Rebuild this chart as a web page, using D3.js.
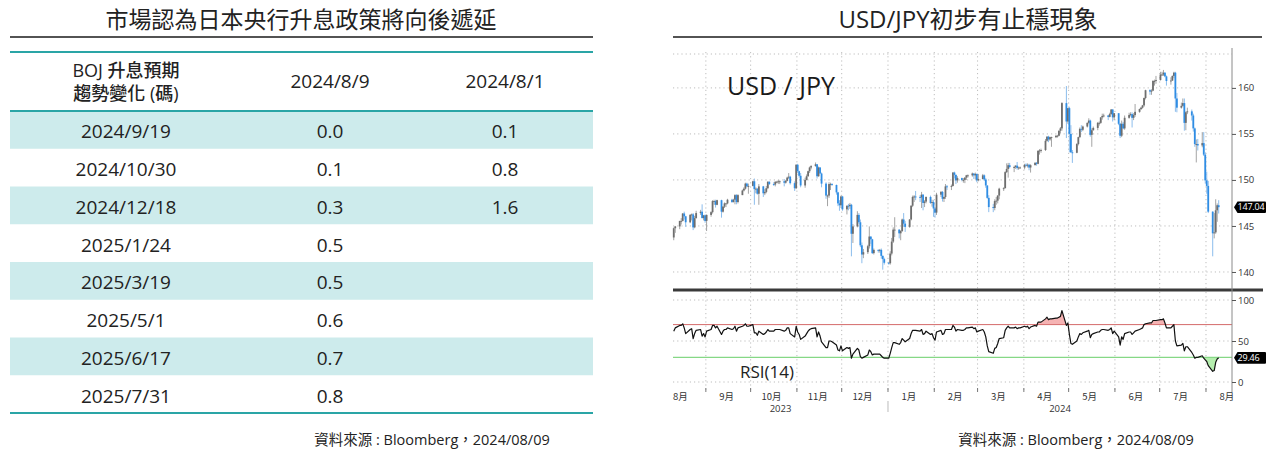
<!DOCTYPE html>
<html>
<head>
<meta charset="utf-8">
<script src="https://cdn.jsdelivr.net/npm/d3@7"></script>
<style>
  body { margin: 0; background: #fff; }
  svg { display: block; font-family: "Open Sans", "Noto Sans CJK TC", sans-serif; }
</style>
</head>
<body>
<svg id="chart" width="1282" height="452"></svg>
<script>
// ---------- table data ----------
const tableTitle = "市場認為日本央行升息政策將向後遞延";
const headerLines = ["BOJ 升息預期", "趨勢變化 (碼)"];
const columnDates = ["2024/8/9", "2024/8/1"];
const meetingDates = ["2024/9/19", "2024/10/30", "2024/12/18", "2025/1/24",
  "2025/3/19", "2025/5/1", "2025/6/17", "2025/7/31"];
const hikesAug9 = [0.0, 0.1, 0.3, 0.5, 0.5, 0.6, 0.7, 0.8];
const hikesAug1 = [0.1, 0.8, 1.6];
const sourceNote = "資料來源 : Bloomberg，2024/08/09";

// ---------- chart data ----------
const chartTitle = "USD/JPY初步有止穩現象";
const priceTicks = [140, 145, 150, 155, 160];
const rsiTicks = [0, 50, 100];
const rsiBands = [30, 70];
const monthLabels = ["8月", "9月", "10月", "11月", "12月", "1月", "2月", "3月",
  "4月", "5月", "6月", "7月", "8月"];
const yearLabels = ["2023", "2024"];
const firstDay = "2023-08-10";
const lastDay = "2024-08-09";

// daily [open, high, low, close], one row per weekday
const ohlc = [
  // 2023-08
  [143.75,144.85,143.45,144.75],[144.75,145.00,144.25,144.95],[144.95,145.55,144.65,145.55],
  [145.55,145.85,145.15,145.55],[145.55,146.40,145.50,146.35],[146.35,146.55,145.70,146.05],
  [146.05,146.10,144.90,145.40],[145.40,146.30,145.30,146.20],[146.20,146.35,145.60,146.25],
  [146.25,146.40,144.55,144.85],[144.85,146.10,144.75,145.85],[145.85,146.65,145.80,146.40],
  [146.40,146.75,146.20,146.55],[146.55,147.35,145.85,145.85],[145.85,146.20,145.60,146.15],
  [146.15,146.25,145.35,145.55],
  // 2023-09
  [145.55,146.25,144.45,146.20],[146.20,146.60,146.00,146.50],[146.50,147.80,146.35,147.70],
  [147.70,147.85,147.30,147.70],[147.70,147.85,147.00,147.30],[147.30,147.85,147.25,147.80],
  [147.80,147.85,145.90,146.55],[146.55,147.15,146.45,147.10],[147.10,147.55,146.95,147.45],
  [147.45,147.50,147.05,147.45],[147.45,147.95,147.35,147.85],[147.85,147.95,147.50,147.60],
  [147.60,147.95,147.55,147.85],[147.85,148.45,147.35,148.35],[148.35,148.45,147.35,147.60],
  [147.60,148.45,147.45,148.35],[148.35,148.95,148.35,148.85],[148.85,149.20,148.75,149.05],
  [149.05,149.70,148.95,149.60],[149.60,149.70,149.20,149.30],[149.30,149.60,148.50,149.35],
  // 2023-10
  [149.35,149.90,149.30,149.85],[149.85,150.15,147.30,149.00],[149.00,149.20,148.55,149.05],
  [149.05,149.10,148.40,148.50],[148.50,149.55,147.30,149.30],[149.30,149.35,148.15,148.55],
  [148.55,149.00,148.35,148.70],[148.70,149.35,148.55,149.10],[149.10,149.85,149.00,149.80],
  [149.80,149.85,149.45,149.55],[149.55,149.75,149.35,149.50],[149.50,149.85,149.30,149.80],
  [149.80,149.90,149.65,149.80],[149.80,150.00,149.55,149.85],[149.85,149.95,149.55,149.85],
  [149.85,150.10,149.30,149.70],[149.70,150.00,149.60,149.90],[149.90,150.35,149.85,150.25],
  [150.25,150.75,150.10,150.35],[150.35,150.45,149.50,149.65],[149.65,149.85,148.80,149.10],
  [149.10,151.70,149.00,151.65],
  // 2023-11
  [151.65,151.75,150.75,150.95],[150.95,151.00,150.25,150.45],[150.45,150.75,149.20,149.40],
  [149.40,150.25,149.15,150.00],[150.00,150.60,149.95,150.40],[150.40,151.00,150.35,150.95],
  [150.95,151.45,150.75,151.35],[151.35,151.60,151.15,151.50],[151.50,151.90,151.45,151.70],
  [151.70,151.70,150.15,150.40],[150.40,151.45,150.35,151.35],[151.35,151.40,150.65,150.70],
  [150.70,150.80,149.20,149.60],[149.60,149.75,147.95,148.30],[148.30,148.40,147.15,148.30],
  [148.30,149.75,148.05,149.55],[149.55,149.70,148.90,149.55],[149.55,149.65,149.35,149.45],
  [149.45,149.50,148.40,148.65],[148.65,148.70,147.15,147.45],[147.45,147.80,146.65,147.25],
  [147.25,148.30,146.95,148.20],
  // 2023-12
  [148.20,148.25,146.65,146.80],[146.80,147.20,146.25,147.20],[147.20,147.40,146.70,147.15],
  [147.15,147.50,146.85,147.30],[147.30,147.40,141.70,144.15],[144.15,145.20,143.15,144.95],
  [144.95,146.60,144.85,146.20],[146.20,146.40,145.20,145.40],[145.40,145.70,142.70,142.90],
  [142.90,143.20,140.95,141.90],[141.90,142.50,141.50,142.15],[142.15,142.95,141.95,142.80],
  [142.80,144.95,142.55,143.85],[143.85,143.85,143.05,143.55],[143.55,143.60,141.95,142.05],
  [142.05,142.55,141.90,142.40],[142.40,142.45,142.10,142.30],[142.30,142.50,142.10,142.40],
  [142.40,142.55,141.45,141.75],[141.75,141.80,140.25,141.40],[141.40,141.55,140.80,141.00],
  // 2024-01
  [141.00,141.10,140.80,140.95],[140.95,142.25,140.80,142.00],[142.00,143.70,141.80,143.30],
  [143.30,144.85,143.15,144.60],[144.60,145.95,143.80,144.60],[144.60,144.65,143.65,144.20],
  [144.20,144.55,143.45,144.45],[144.45,145.80,144.35,145.70],[145.70,146.40,144.90,145.25],
  [145.25,145.55,144.35,144.90],[144.90,145.75,144.80,145.70],[145.70,147.25,145.60,147.20],
  [147.20,148.30,147.05,148.15],[148.15,148.35,147.60,148.20],[148.20,148.80,147.80,148.15],
  [148.15,148.35,147.60,148.10],[148.10,148.70,146.95,148.40],[148.40,148.45,146.70,147.50],
  [147.50,147.80,147.05,147.65],[147.65,148.20,147.45,148.15],[148.15,148.30,147.40,147.50],
  [147.50,147.85,147.10,147.60],[147.60,147.80,146.00,146.90],
  // 2024-02
  [146.90,147.05,145.90,146.45],[146.45,148.60,146.20,148.40],[148.40,148.80,148.15,148.70],
  [148.70,148.80,147.65,147.95],[147.95,148.20,147.60,148.15],[148.15,149.55,147.95,149.30],
  [149.30,149.45,148.90,149.25],[149.25,149.50,148.90,149.35],[149.35,150.85,149.30,150.80],
  [150.80,150.90,150.15,150.55],[150.55,150.60,149.55,149.95],[149.95,150.40,149.70,150.20],
  [150.20,150.25,149.85,150.00],[150.00,150.20,149.70,150.00],[150.00,150.30,149.65,150.25],
  [150.25,150.55,150.00,150.50],[150.50,150.60,150.25,150.50],[150.50,150.80,150.35,150.70],
  [150.70,150.70,150.10,150.50],[150.50,150.80,150.05,150.65],[150.65,150.70,149.75,149.95],
  // 2024-03
  [149.95,150.65,149.85,150.10],[150.10,150.65,150.05,150.50],[150.50,150.60,149.90,150.05],
  [150.05,150.20,149.15,149.40],[149.40,149.40,147.95,148.05],[148.05,148.35,146.50,147.05],
  [147.05,147.40,146.50,146.95],[146.95,147.90,146.70,147.70],[147.70,148.15,147.30,147.75],
  [147.75,148.35,147.45,148.30],[148.30,149.15,147.90,149.05],[149.05,149.20,148.80,149.10],
  [149.10,150.95,149.10,150.85],[150.85,151.80,150.75,151.20],[151.20,151.85,150.25,151.60],
  [151.60,151.85,151.25,151.40],[151.40,151.55,150.85,151.40],[151.40,151.60,151.20,151.55],
  [151.55,151.95,151.10,151.30],[151.30,151.45,151.10,151.35],[151.35,151.45,151.25,151.35],
  // 2024-04
  [151.35,151.75,151.15,151.65],[151.65,151.80,151.45,151.55],[151.55,151.80,151.35,151.65],
  [151.65,151.75,151.05,151.35],[151.35,151.70,150.80,151.60],[151.60,151.95,151.60,151.85],
  [151.85,151.95,151.55,151.75],[151.75,153.25,151.70,153.15],[153.15,153.35,152.75,153.20],
  [153.20,153.40,152.95,153.25],[153.25,154.45,153.15,154.25],[154.25,154.75,154.15,154.70],
  [154.70,154.80,154.10,154.40],[154.40,154.70,154.25,154.65],[154.65,154.70,153.60,154.65],
  [154.65,154.85,154.55,154.80],[154.80,154.90,154.60,154.80],[154.80,155.35,154.75,155.35],
  [155.35,155.75,155.05,155.60],[155.60,158.45,155.35,158.35],[158.35,160.20,154.55,156.35],
  [156.35,157.80,156.10,157.80],
  // 2024-05
  [157.80,157.95,153.00,155.00],[155.00,155.95,152.95,153.00],[153.00,153.25,151.85,152.95],
  [152.95,154.00,152.90,153.90],[153.90,154.70,153.75,154.65],[154.65,155.70,154.55,155.55],
  [155.55,155.95,155.20,155.45],[155.45,155.90,155.30,155.80],[155.80,156.25,155.70,156.20],
  [156.20,156.70,156.05,156.45],[156.45,156.55,154.70,154.90],[154.90,155.60,153.60,155.40],
  [155.40,155.80,155.35,155.65],[155.65,156.30,155.40,156.20],[156.20,156.35,155.90,156.20],
  [156.20,156.80,156.10,156.80],[156.80,157.20,156.55,156.95],[156.95,157.20,156.80,157.00],
  [157.00,157.05,156.50,156.85],[156.85,157.30,156.80,157.15],[157.15,157.70,157.10,157.65],
  [157.65,157.70,156.35,156.80],[156.80,157.25,156.50,157.25],
  // 2024-06
  [157.25,157.25,155.95,156.10],[156.10,156.20,154.55,154.80],[154.80,156.45,154.65,156.10],
  [156.10,156.30,155.50,155.60],[155.60,157.00,155.45,156.75],[156.75,157.30,156.65,157.05],
  [157.05,157.35,156.90,157.15],[157.15,157.35,155.70,156.75],[156.75,157.25,156.50,157.05],
  [157.05,158.25,156.85,157.40],[157.40,157.75,157.30,157.70],[157.70,157.95,157.60,157.85],
  [157.85,158.15,157.75,158.10],[158.10,158.95,157.95,158.90],[158.90,159.80,158.75,159.75],
  [159.75,159.85,159.25,159.60],[159.60,159.85,159.25,159.70],[159.70,160.85,159.65,160.75],
  [160.75,160.90,160.25,160.75],[160.75,161.30,160.45,160.85],
  // 2024-07
  [160.85,161.75,160.80,161.45],[161.45,161.75,161.30,161.45],[161.45,161.95,161.30,161.65],
  [161.65,161.70,161.15,161.25],[161.25,161.35,160.25,160.75],[160.75,161.15,160.35,160.80],
  [160.80,161.35,160.75,161.30],[161.30,161.75,161.05,161.65],[161.65,161.75,157.40,158.85],
  [158.85,159.45,157.35,157.85],[157.85,158.40,157.75,158.05],[158.05,158.85,157.95,158.35],
  [158.35,158.85,155.35,156.20],[156.20,157.45,155.40,157.35],[157.35,157.85,157.15,157.45],
  [157.45,157.65,156.45,157.00],[157.00,157.20,155.25,155.60],[155.60,155.70,153.60,153.90],
  [153.90,154.40,151.90,153.90],[153.90,154.45,153.20,153.75],[153.75,155.20,153.55,154.00],
  [154.00,155.20,152.60,152.75],[152.75,153.00,149.60,149.95],
  // 2024-08
  [149.95,150.90,148.50,149.35],[149.35,149.90,146.40,146.55],[146.55,146.60,141.70,144.20],
  [144.20,146.40,143.65,144.30],[144.30,147.90,144.15,146.70],[146.70,147.45,145.45,147.25],
  [147.25,147.80,146.35,147.04]
];

// RSI(14), one value per weekday
const rsi14 = [
  62,66,69,69,71,66,59,64,65,53,59,63,64,56,59,55,
  62,64,69,69,66,68,58,62,64,64,66,64,65,68,62,66,68,69,71,68,68,
  70,60,60,57,62,58,59,61,64,62,62,64,64,64,64,62,63,66,66,59,55,68,
  61,58,52,56,59,62,64,65,66,55,61,56,49,42,42,50,50,49,45,39,38,44,
  38,42,41,42,29,34,41,39,31,29,30,33,39,37,33,34,34,34,32,30,29,
  29,35,42,48,48,46,48,53,51,49,53,59,63,63,63,62,64,58,59,62,58,59,54,
  51,61,63,58,59,64,64,64,69,67,62,64,63,63,64,66,66,67,65,66,61,
  62,64,61,55,44,37,35,41,42,47,53,54,63,66,68,66,66,67,65,66,66,
  68,67,68,65,67,69,68,73,73,73,77,79,76,77,77,78,78,79,80,87,69,72,
  58,47,46,50,55,59,58,60,62,63,54,58,59,61,61,63,64,64,63,64,66,59,62,
  55,45,55,52,59,61,61,58,60,62,64,65,66,70,71,72,72,75,75,75,
  76,76,77,72,66,66,68,70,50,44,45,47,38,43,43,36,33,29,30,30,32,29,27,
  25,20,13,14,24,28,29.46
];

const svg = d3.select("#chart");
svg.append("rect").attr("width", 1282).attr("height", 452).attr("fill", "#fff");

// ================= left panel: table =================
const teal = "#2aa5a6";
const tbl = svg.append("g");

tbl.append("text")
  .attr("x", 301).attr("y", 28)
  .attr("text-anchor", "middle")
  .style("font-family", "'Noto Sans CJK TC', sans-serif")
  .style("font-size", "23px")
  .attr("fill", "#222")
  .text(tableTitle);

tbl.append("line")
  .attr("x1", 10).attr("x2", 593).attr("y1", 37).attr("y2", 37)
  .attr("stroke", "#1a1a1a").attr("stroke-width", 1.5);

const rowY = d3.scaleBand().domain(meetingDates).range([111, 413]);
const colX = d3.scaleOrdinal().domain(["label", "aug9", "aug1"]).range([126, 330, 505]);
const fmt1 = d3.format(".1f");

tbl.selectAll("rect.stripe")
  .data(meetingDates.filter((d, i) => i % 2 === 0))
  .enter().append("rect")
  .attr("class", "stripe")
  .attr("x", 10).attr("width", 583)
  .attr("y", d => rowY(d)).attr("height", rowY.bandwidth())
  .attr("fill", "#cdebec");

[52, 111, 413].forEach(yy => {
  tbl.append("line")
    .attr("x1", 10).attr("x2", 593).attr("y1", yy).attr("y2", yy)
    .attr("stroke", teal).attr("stroke-width", 2);
});

// header
tbl.selectAll("text.hdr")
  .data(headerLines)
  .enter().append("text")
  .attr("class", "hdr")
  .attr("x", colX("label"))
  .attr("y", (d, i) => 77 + i * 23)
  .attr("text-anchor", "middle")
  .style("font-size", "18px").style("font-weight", 500)
  .attr("fill", "#222")
  .text(d => d);

tbl.selectAll("text.colhdr")
  .data(columnDates)
  .enter().append("text")
  .attr("class", "colhdr")
  .attr("x", (d, i) => colX(i === 0 ? "aug9" : "aug1"))
  .attr("y", 88)
  .attr("text-anchor", "middle")
  .style("font-size", "19px").style("font-weight", 500)
  .attr("fill", "#222")
  .text(d => d);

// body cells
const cellY = d => rowY(d) + rowY.bandwidth() / 2 + 8.5;
const bodyText = sel => sel
  .attr("text-anchor", "middle")
  .style("font-size", "19px")
  .attr("fill", "#222");

tbl.selectAll("text.date")
  .data(meetingDates).enter().append("text")
  .attr("class", "date")
  .attr("x", colX("label")).attr("y", cellY)
  .call(bodyText).text(d => d);

tbl.selectAll("text.v9")
  .data(hikesAug9).enter().append("text")
  .attr("class", "v9")
  .attr("x", colX("aug9")).attr("y", (d, i) => cellY(meetingDates[i]))
  .call(bodyText).text(d => fmt1(d));

tbl.selectAll("text.v1")
  .data(hikesAug1).enter().append("text")
  .attr("class", "v1")
  .attr("x", colX("aug1")).attr("y", (d, i) => cellY(meetingDates[i]))
  .call(bodyText).text(d => fmt1(d));

tbl.append("text")
  .attr("x", 432).attr("y", 445)
  .attr("text-anchor", "middle")
  .style("font-size", "14.5px").attr("fill", "#222")
  .text(sourceNote);

// ================= right panel: USD/JPY chart =================
const cg = svg.append("g");

cg.append("text")
  .attr("x", 968).attr("y", 28)
  .attr("text-anchor", "middle")
  .style("font-size", "24px")
  .attr("fill", "#222")
  .text(chartTitle);

cg.append("line")
  .attr("x1", 673).attr("x2", 1262).attr("y1", 37).attr("y2", 37)
  .attr("stroke", "#1a1a1a").attr("stroke-width", 1.5);

const parseDay = d3.timeParse("%Y-%m-%d");
const days = d3.timeDay.range(parseDay(firstDay), d3.timeDay.offset(parseDay(lastDay), 1))
  .filter(d => d.getDay() !== 0 && d.getDay() !== 6);
const n = Math.min(days.length, ohlc.length, rsi14.length);

const x = d3.scaleTime()
  .domain([parseDay(firstDay), new Date(2024, 7, 18, 10)])
  .range([673, 1232]);
const xc = d => x(d3.timeHour.offset(d, 12));

const y = d3.scaleLinear().domain([138.15, 163.9]).range([289, 52]);
const yR = d3.scaleLinear().domain([0, 100]).range([382, 300]);

const gridStyle = sel => sel
  .attr("stroke", "#bdbdbd").attr("stroke-width", 1)
  .attr("stroke-dasharray", "1.2,3");

// month gridlines
const monthStarts = d3.timeMonth.range(x.domain()[0], x.domain()[1]);
[[52, 289], [292, 390]].forEach(([a, b]) => {
  cg.append("g").selectAll("line")
    .data(monthStarts).enter().append("line")
    .attr("x1", d => x(d)).attr("x2", d => x(d))
    .attr("y1", a).attr("y2", b)
    .call(gridStyle);
});

// horizontal gridlines
cg.append("g").selectAll("line")
  .data(priceTicks).enter().append("line")
  .attr("x1", 673).attr("x2", 1232)
  .attr("y1", d => y(d)).attr("y2", d => y(d))
  .call(gridStyle);
cg.append("line").attr("x1", 673).attr("x2", 1232).attr("y1", 54).attr("y2", 54).call(gridStyle);
cg.append("g").selectAll("line")
  .data(rsiTicks).enter().append("line")
  .attr("x1", 673).attr("x2", 1232)
  .attr("y1", d => yR(d)).attr("y2", d => yR(d))
  .call(gridStyle);

// candles
const upBody = "#6e6e6e", downBody = "#2f8de4", wick = "#9a9a9a";
const candleData = d3.range(n).map(i => ({
  date: days[i], o: ohlc[i][0], h: ohlc[i][1], l: ohlc[i][2], c: ohlc[i][3]
}));
const candles = cg.append("g").selectAll("g")
  .data(candleData).enter().append("g");
candles.append("line")
  .attr("x1", d => xc(d.date)).attr("x2", d => xc(d.date))
  .attr("y1", d => y(d.h)).attr("y2", d => y(d.l))
  .attr("stroke", d => d.c >= d.o ? wick : "#7fb6ea")
  .attr("stroke-width", 0.9);
candles.append("rect")
  .attr("x", d => xc(d.date) - 0.9)
  .attr("width", 1.8)
  .attr("y", d => y(Math.max(d.o, d.c)))
  .attr("height", d => Math.max(0.9, Math.abs(y(d.o) - y(d.c))))
  .attr("fill", d => d.c >= d.o ? upBody : downBody);

// RSI bands and fills
const rsiData = d3.range(n).map(i => ({ date: days[i], v: rsi14[i] }));
const [loBand, hiBand] = rsiBands;
cg.append("path")
  .datum(rsiData)
  .attr("fill", "#f5b3b3")
  .attr("d", d3.area()
    .x(d => xc(d.date))
    .y0(yR(hiBand))
    .y1(d => yR(Math.max(d.v, hiBand))));
cg.append("path")
  .datum(rsiData)
  .attr("fill", "#b5eeae")
  .attr("d", d3.area()
    .x(d => xc(d.date))
    .y0(yR(loBand))
    .y1(d => yR(Math.min(d.v, loBand))));

cg.append("line")
  .attr("x1", 673).attr("x2", 1232)
  .attr("y1", yR(hiBand)).attr("y2", yR(hiBand))
  .attr("stroke", "#d46a6a").attr("stroke-width", 1);
cg.append("line")
  .attr("x1", 673).attr("x2", 1232)
  .attr("y1", yR(loBand)).attr("y2", yR(loBand))
  .attr("stroke", "#86d886").attr("stroke-width", 1.2);

cg.append("path")
  .datum(rsiData)
  .attr("fill", "none")
  .attr("stroke", "#111").attr("stroke-width", 1.2)
  .attr("stroke-linejoin", "round")
  .attr("d", d3.line().x(d => xc(d.date)).y(d => yR(d.v)));

// panel separator
cg.append("line")
  .attr("x1", 673).attr("x2", 1263).attr("y1", 290).attr("y2", 290)
  .attr("stroke", "#3a3a3a").attr("stroke-width", 3);

// right axis
cg.append("line")
  .attr("x1", 1232).attr("x2", 1232).attr("y1", 48).attr("y2", 392)
  .attr("stroke", "#8a8a8a").attr("stroke-width", 1);

const styleAxis = g => {
  g.select(".domain").remove();
  g.selectAll(".tick line").attr("stroke", "#555");
  g.selectAll(".tick text")
    .attr("fill", "#333")
    .style("font-size", "9.5px")
    .style("font-family", "'Open Sans', sans-serif");
};
cg.append("g")
  .attr("transform", "translate(1232,0)")
  .call(d3.axisRight(y).tickValues(priceTicks).tickSize(4).tickPadding(2).tickFormat(d3.format("d")))
  .call(styleAxis);
cg.append("g")
  .attr("transform", "translate(1232,0)")
  .call(d3.axisRight(yR).tickValues(rsiTicks).tickSize(4).tickPadding(2).tickFormat(d3.format("d")))
  .call(styleAxis);

// last value tags
const lastClose = ohlc[n - 1][3];
const lastRsi = rsi14[n - 1];
const tag = (yy, label) => {
  const x0 = 1234, x1 = 1266, h = 5.8;
  cg.append("path")
    .attr("d", `M${x0},${yy} L${x0 + 3.5},${yy - h} L${x1 - 1},${yy - h} Q${x1},${yy - h} ${x1},${yy - h + 1} L${x1},${yy + h - 1} Q${x1},${yy + h} ${x1 - 1},${yy + h} L${x0 + 3.5},${yy + h} Z`)
    .attr("fill", "#000");
  cg.append("text")
    .attr("x", x0 + 3.5).attr("y", yy + 3.3)
    .style("font-size", "9px")
    .style("letter-spacing", "-0.2px")
    .style("font-family", "'Open Sans', sans-serif")
    .attr("fill", "#fff")
    .text(label);
};
tag(y(lastClose), d3.format(".2f")(lastClose));
tag(yR(lastRsi), d3.format(".2f")(lastRsi));

// x axis: month ticks, labels and years
cg.append("g").selectAll("line")
  .data(monthStarts).enter().append("line")
  .attr("x1", d => x(d)).attr("x2", d => x(d))
  .attr("y1", 388).attr("y2", 392)
  .attr("stroke", "#777");

const monthsAll = d3.timeMonth.range(d3.timeMonth.floor(x.domain()[0]), x.domain()[1]);
cg.append("g").selectAll("text")
  .data(monthsAll).enter().append("text")
  .attr("x", d => x(d3.timeDay.offset(d, 14)))
  .attr("y", 400)
  .attr("text-anchor", "middle")
  .style("font-size", "9.5px")
  .style("font-family", "'Noto Sans CJK TC', sans-serif")
  .attr("fill", "#333")
  .text((d, i) => monthLabels[i]);

const yearBreak = new Date(2024, 0, 1);
const yearSpans = [[x.range()[0], x(yearBreak)], [x(yearBreak), x.range()[1]]];
cg.append("g").selectAll("text")
  .data(yearLabels).enter().append("text")
  .attr("x", (d, i) => (yearSpans[i][0] + yearSpans[i][1]) / 2)
  .attr("y", 412)
  .attr("text-anchor", "middle")
  .style("font-size", "9.5px")
  .style("font-family", "'Open Sans', sans-serif")
  .attr("fill", "#333")
  .text(d => d);
cg.append("line")
  .attr("x1", x(yearBreak)).attr("x2", x(yearBreak))
  .attr("y1", 401).attr("y2", 412)
  .attr("stroke", "#bbb");

// in-chart labels
cg.append("text")
  .attr("x", 727).attr("y", 95)
  .style("font-size", "25px")
  .attr("fill", "#1a1a1a")
  .text("USD / JPY");
cg.append("text")
  .attr("x", 740).attr("y", 378)
  .style("font-size", "17px")
  .attr("fill", "#222")
  .text("RSI(14)");

cg.append("text")
  .attr("x", 1076).attr("y", 445)
  .attr("text-anchor", "middle")
  .style("font-size", "14.5px").attr("fill", "#222")
  .text(sourceNote);
</script>
</body>
</html>
